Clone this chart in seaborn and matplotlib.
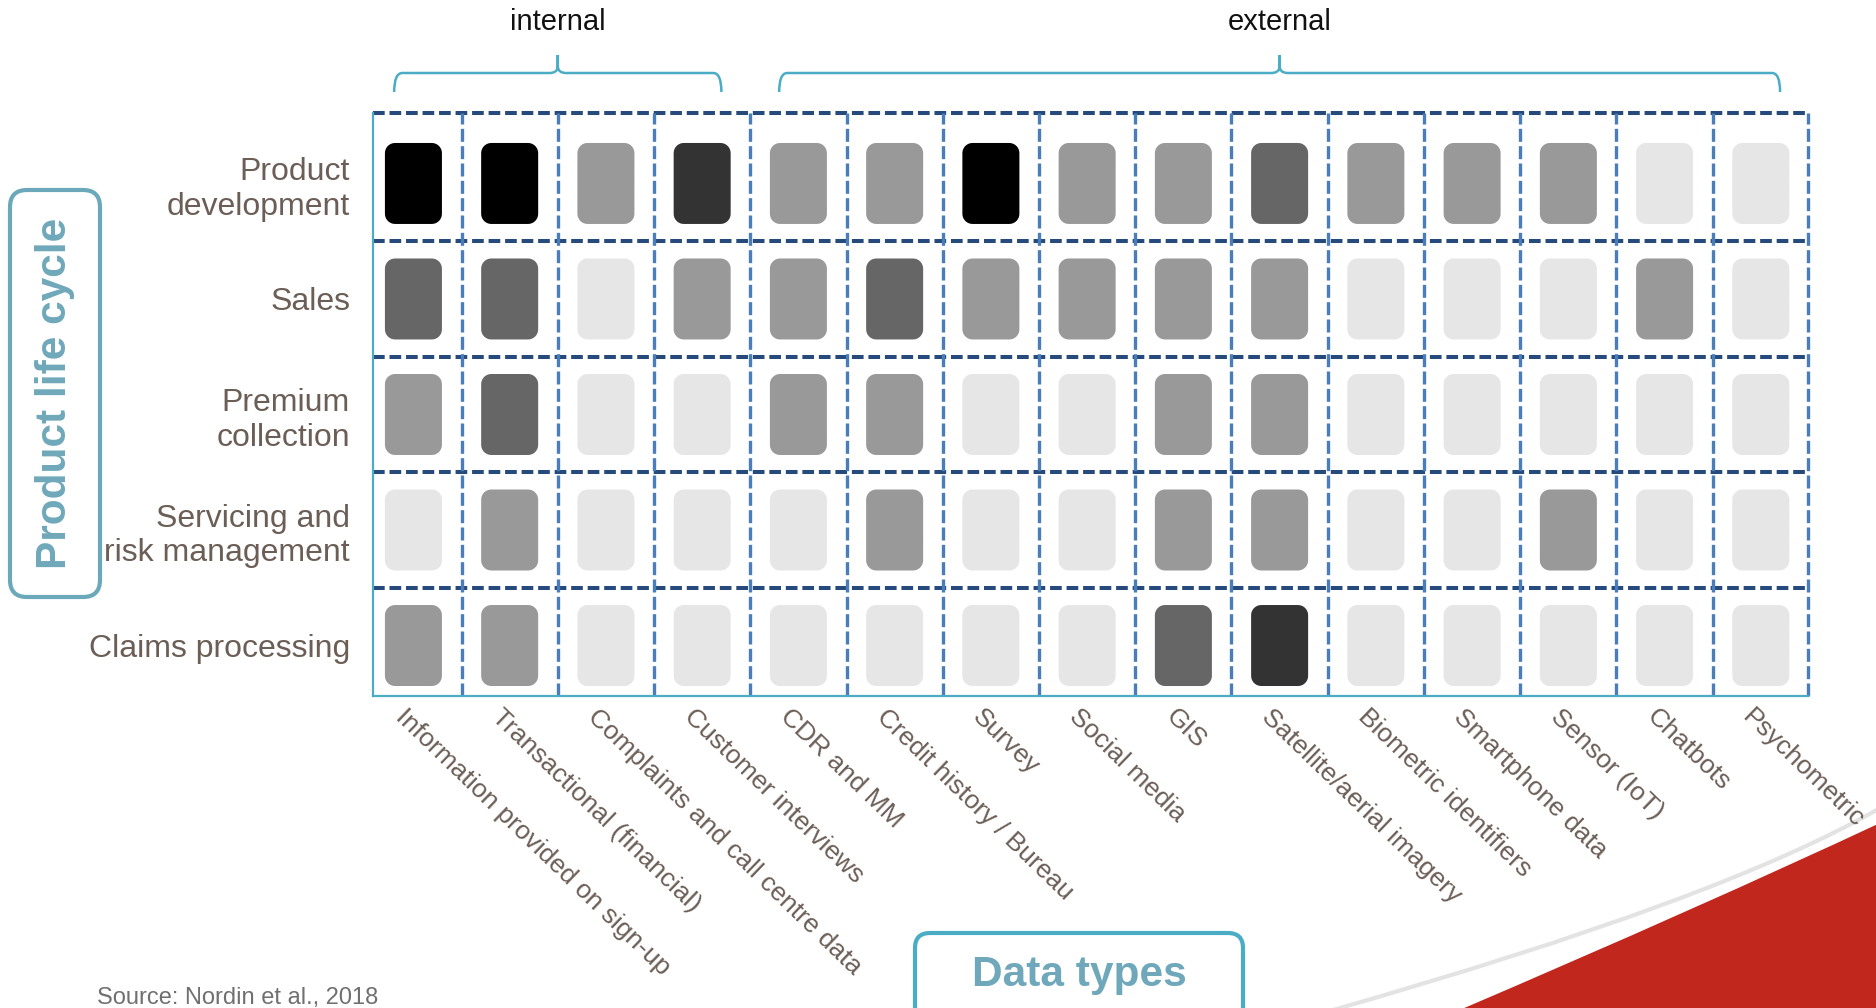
import numpy as np
import pandas as pd
import matplotlib
matplotlib.use("Agg")
import matplotlib.pyplot as plt
import matplotlib.transforms as mtransforms
from matplotlib.path import Path
from matplotlib.patches import FancyBboxPatch, PathPatch
import seaborn as sns

# ---------------------------------------------------------------------------
# Data: relevance of each data type across the insurance product life cycle
# (0 = not used, 4 = highly relevant)
# ---------------------------------------------------------------------------
STAGES = [
    "Product\ndevelopment",
    "Sales",
    "Premium\ncollection",
    "Servicing and\nrisk management",
    "Claims processing",
]
DATA_TYPES = [
    "Information provided on sign-up",
    "Transactional (financial)",
    "Complaints and call centre data",
    "Customer interviews",
    "CDR and MM",
    "Credit history / Bureau",
    "Survey",
    "Social media",
    "GIS",
    "Satellite/aerial imagery",
    "Biometric identifiers",
    "Smartphone data",
    "Sensor (IoT)",
    "Chatbots",
    "Psychometric",
]
DATA_SOURCES = ["internal"] * 4 + ["external"] * 11

PRODUCT_DEVELOPMENT = [4, 4, 1, 3, 1, 1, 4, 1, 1, 2, 1, 1, 1, 0, 0]
SALES               = [2, 2, 0, 1, 1, 2, 1, 1, 1, 1, 0, 0, 0, 1, 0]
PREMIUM_COLLECTION  = [1, 2, 0, 0, 1, 1, 0, 0, 1, 1, 0, 0, 0, 0, 0]
SERVICING_RISK      = [0, 1, 0, 0, 0, 1, 0, 0, 1, 1, 0, 0, 1, 0, 0]
CLAIMS_PROCESSING   = [1, 1, 0, 0, 0, 0, 0, 0, 2, 3, 0, 0, 0, 0, 0]

SOURCE_NOTE = "Source: Nordin et al., 2018"

# ---------------------------------------------------------------------------
# Styling
# ---------------------------------------------------------------------------
LEVEL_COLORS = {0: "#E6E6E6", 1: "#999999", 2: "#666666", 3: "#333333", 4: "#000000"}
TEXT_BROWN = "#6B5E56"
TEAL_TEXT = "#6FA8BA"
TEAL_LINE = "#4BACC6"
NAVY_DASH = "#254A7B"
BLUE_DASH = "#4A7EBB"

sns.set_theme(style="white")
plt.rcParams["font.family"] = ["Liberation Sans", "DejaVu Sans"]

# long-form table: one cell per (stage, data type)
rows = [PRODUCT_DEVELOPMENT, SALES, PREMIUM_COLLECTION, SERVICING_RISK, CLAIMS_PROCESSING]
records = []
for i, (stage, values) in enumerate(zip(STAGES, rows)):
    for j, (dtype, level) in enumerate(zip(DATA_TYPES, values)):
        records.append({"stage": stage, "data_type": dtype,
                        "row": i, "col": j, "level": level})
df = pd.DataFrame(records)


def rounded_rect(width, height, radius, n=10):
    """Closed rounded-rectangle path centred on the origin."""
    verts = []
    corners = [(width / 2 - radius, height / 2 - radius, 0),
               (-width / 2 + radius, height / 2 - radius, 90),
               (-width / 2 + radius, -height / 2 + radius, 180),
               (width / 2 - radius, -height / 2 + radius, 270)]
    for cx, cy, a0 in corners:
        for t in np.radians(np.linspace(a0, a0 + 90, n)):
            verts.append((cx + radius * np.cos(t), cy + radius * np.sin(t)))
    verts.append(verts[0])
    codes = [Path.MOVETO] + [Path.LINETO] * (len(verts) - 2) + [Path.CLOSEPOLY]
    return Path(verts, codes)


CELL_MARKER = rounded_rect(0.704, 1.0, 0.125)

W, H, DPI = 1876, 1008, 100
fig = plt.figure(figsize=(W / DPI, H / DPI), dpi=DPI)
ax = fig.add_axes([373 / W, 1 - 696 / H, (1808 - 373) / W, (696 - 113) / H])
ax.patch.set_alpha(0)

sns.scatterplot(data=df, x="col", y="row", hue="level", palette=LEVEL_COLORS,
                marker=CELL_MARKER, s=3400, linewidth=0, legend=False,
                ax=ax, zorder=3)

X_LEFT, X_RIGHT = -0.42, len(DATA_TYPES) - 1 + 0.49
Y_TOP, Y_BOTTOM = -0.61, len(STAGES) - 1 + 0.437
ax.set_xlim(X_LEFT, X_RIGHT)
ax.set_ylim(Y_BOTTOM, Y_TOP)

# grid: dashed row separators and column separators
for y in np.arange(0.5, len(STAGES) - 1):
    ax.axhline(y, color=NAVY_DASH, lw=2.9, dashes=(2.9, 1.2), zorder=1)
ax.axhline(Y_TOP, color=NAVY_DASH, lw=2.9, dashes=(2.9, 1.2), zorder=1, clip_on=False)
for x in np.arange(0.5, len(DATA_TYPES) - 1):
    ax.axvline(x, color=BLUE_DASH, lw=2.4, dashes=(3.9, 1.3), zorder=2)
ax.axvline(X_RIGHT, color=BLUE_DASH, lw=2.4, dashes=(3.9, 1.3), zorder=2, clip_on=False)

for side in ["top", "right"]:
    ax.spines[side].set_visible(False)
for side in ["left", "bottom"]:
    ax.spines[side].set_visible(True)
    ax.spines[side].set_color(TEAL_LINE)
    ax.spines[side].set_linewidth(1.6)

ax.set_xlabel("")
ax.set_ylabel("")
ax.set_yticks(range(len(STAGES)), labels=STAGES)
ax.set_xticks(range(len(DATA_TYPES)), labels=DATA_TYPES)
ax.tick_params(axis="y", length=0, pad=16.5, labelsize=23, labelcolor=TEXT_BROWN)
ax.tick_params(axis="x", length=0, pad=6, labelsize=19, labelcolor=TEXT_BROWN)
for lab in ax.get_yticklabels():
    lab.set_multialignment("right")
shift = mtransforms.ScaledTranslation(-6 / DPI, 0, fig.dpi_scale_trans)
for lab in ax.get_xticklabels():
    lab.set_rotation(-44)
    lab.set_ha("left")
    lab.set_va("top")
    lab.set_rotation_mode("anchor")
    lab.set_transform(lab.get_transform() + shift)

# curly braces grouping internal / external data types
brace_tf = mtransforms.blended_transform_factory(ax.transData, ax.transAxes)
y_end, y_bar, y_tip = 1.036, 1.0686, 1.0995
dx = 0.085
for group in ["internal", "external"]:
    idx = [k for k, g in enumerate(DATA_SOURCES) if g == group]
    x0, x1 = idx[0] - 0.2, idx[-1] + 0.2
    xm = (x0 + x1) / 2
    verts = [(x0, y_end), (x0, y_bar), (x0 + dx, y_bar),
             (xm - dx, y_bar), (xm, y_bar), (xm, y_bar + 0.012), (xm, y_tip),
             (xm, y_tip), (xm, y_bar + 0.012), (xm, y_bar), (xm + dx, y_bar),
             (x1 - dx, y_bar), (x1, y_bar), (x1, y_end)]
    codes = [Path.MOVETO, Path.CURVE3, Path.CURVE3,
             Path.LINETO, Path.CURVE3, Path.CURVE3, Path.LINETO,
             Path.MOVETO, Path.LINETO, Path.CURVE3, Path.CURVE3,
             Path.LINETO, Path.CURVE3, Path.CURVE3]
    ax.add_patch(PathPatch(Path(verts, codes), fill=False, edgecolor=TEAL_LINE,
                           lw=1.8, transform=brace_tf, clip_on=False))
    ax.text(xm, 1.156, group, transform=brace_tf, ha="center", va="center",
            fontsize=21, color="#111111")

# figure-level decorations, placed in pixel units measured from the top-left
px = mtransforms.Affine2D().scale(1 / DPI, -1 / DPI).translate(0, H / DPI) + fig.dpi_scale_trans

fig.patches.append(FancyBboxPatch((10, 190), 90, 407,
                                  boxstyle="round,pad=0,rounding_size=17",
                                  transform=px, fill=False, edgecolor="#6AA8BA",
                                  lw=3, figure=fig))
fig.text(55, 393.5, "Product life cycle", transform=px, rotation=90,
         ha="center", va="center", fontsize=30.5, fontweight="bold", color=TEAL_TEXT)

fig.patches.append(FancyBboxPatch((915, 933), 328, 110,
                                  boxstyle="round,pad=0,rounding_size=15",
                                  transform=px, fill=False, edgecolor=TEAL_LINE,
                                  lw=3, figure=fig))
fig.text(1079, 975, "Data types", transform=px, ha="center", va="center",
         fontsize=30.5, fontweight="bold", color=TEAL_TEXT)

fig.text(97, 998, SOURCE_NOTE, transform=px, ha="left", va="center",
         fontsize=17, color="#707070")

# corner swoosh
swoosh = Path([(1455, 1012), (1705, 905), (1880, 823), (1880, 1012), (1455, 1012)],
              [Path.MOVETO, Path.CURVE3, Path.CURVE3, Path.LINETO, Path.CLOSEPOLY])
fig.patches.append(PathPatch(swoosh, facecolor="#C1271C", edgecolor="none",
                             transform=px, zorder=-1, figure=fig))
arc = Path([(1333, 1010), (1723, 899), (1880, 808)],
           [Path.MOVETO, Path.CURVE3, Path.CURVE3])
fig.patches.append(PathPatch(arc, fill=False, edgecolor="#E3E3E3", lw=3,
                             transform=px, zorder=-1, figure=fig))

fig.savefig("out.png", dpi=DPI)
